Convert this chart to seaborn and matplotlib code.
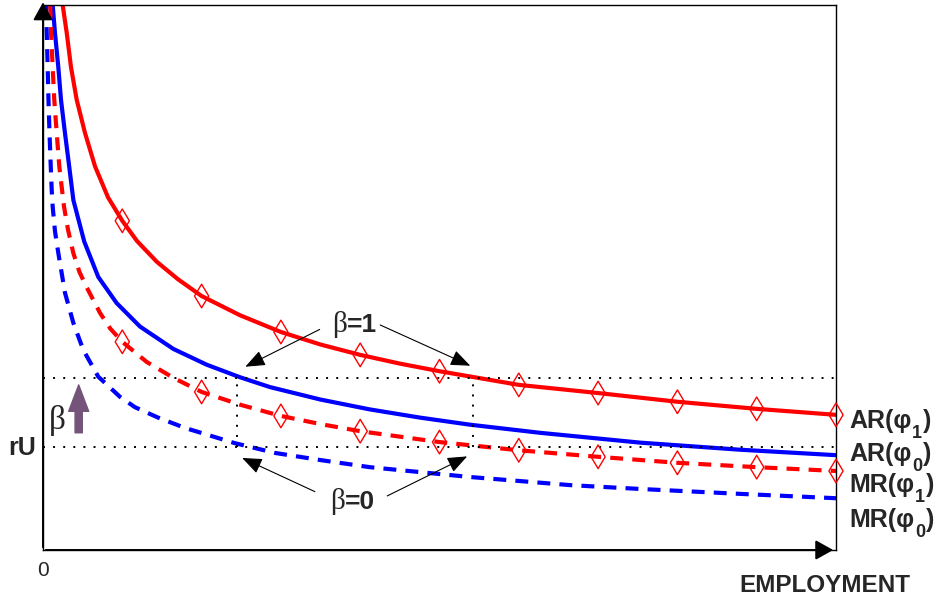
import matplotlib
matplotlib.use('Agg')
import matplotlib.pyplot as plt
import seaborn as sns

sns.set_theme(style='white')
plt.rcParams['font.family'] = ['Liberation Sans', 'DejaVu Sans']

# curves (x = employment, y = value)
ar1_x = [0.248, 0.299, 0.353, 0.425, 0.53, 0.656, 0.82, 1.0, 1.185, 1.434, 1.7, 2, 2.48, 3, 3.5, 4, 4.5, 5, 6, 7, 8, 9, 10]
ar1_y = [10.0, 9.49, 8.86, 8.26, 7.65, 7.04, 6.47, 6.04, 5.67, 5.29, 4.97, 4.66, 4.31, 4.00, 3.77, 3.58, 3.42, 3.28, 3.03, 2.88, 2.72, 2.59, 2.48]

ar0_x = [0.122, 0.151, 0.193, 0.227, 0.277, 0.331, 0.383, 0.52, 0.697, 0.929, 1.223, 1.643, 2.064, 2.484, 2.86, 3.5, 4.12, 4.75, 5.38, 6.27, 7.53, 8.79, 10]
ar0_y = [10.0, 9.49, 8.86, 8.26, 7.65, 7.03, 6.42, 5.66, 5.01, 4.53, 4.10, 3.69, 3.40, 3.17, 2.99, 2.76, 2.58, 2.43, 2.30, 2.15, 1.97, 1.84, 1.74]

mr1_x = [0.09, 0.101, 0.122, 0.142, 0.173, 0.206, 0.265, 0.315, 0.382, 0.46, 0.551, 0.719, 0.85, 1.0, 1.308, 1.643, 2, 2.5, 3, 3.5, 4, 5, 6, 7, 8, 9, 10]
mr1_y = [10.0, 9.49, 8.86, 8.26, 7.65, 7.03, 6.30, 5.88, 5.45, 5.10, 4.82, 4.35, 4.06, 3.82, 3.45, 3.16, 2.90, 2.66, 2.46, 2.31, 2.18, 1.98, 1.83, 1.71, 1.60, 1.52, 1.45]

mr0_x = [0.038, 0.047, 0.059, 0.069, 0.082, 0.098, 0.11, 0.122, 0.151, 0.193, 0.277, 0.382, 0.508, 0.697, 0.971, 1.16, 1.45, 1.79, 2.42, 2.93, 3.5, 4.12, 5.38, 6.65, 7.53, 8.79, 10]
mr0_y = [10.0, 9.49, 8.86, 8.26, 7.65, 7.03, 6.60, 6.30, 5.85, 5.45, 4.72, 4.17, 3.67, 3.18, 2.81, 2.62, 2.43, 2.24, 1.96, 1.78, 1.65, 1.52, 1.34, 1.19, 1.12, 1.03, 0.95]

# diamond markers on the red curves
mark_x = [1, 2, 3, 4, 5, 6, 7, 8, 9, 10]
ar1_mark = [6.04, 4.66, 4.00, 3.58, 3.28, 3.03, 2.88, 2.72, 2.59, 2.48]
mr1_mark = [3.82, 2.90, 2.46, 2.18, 1.98, 1.83, 1.71, 1.60, 1.52, 1.45]

# reference levels
level_beta1 = 3.16
level_ru = 1.89
cut_x = [2.45, 5.42]

W, H = 937, 600
fig = plt.figure(figsize=(W / 100, H / 100), dpi=100)
ax = fig.add_axes([43 / W, 50 / H, 793 / W, 545 / H])


def px(x, y):
    return x / W, 1 - y / H


dash = (0, (3.1, 2.2))
kw = dict(ax=ax, linewidth=3.0, sort=False, estimator=None)
sns.lineplot(x=ar1_x, y=ar1_y, color='#ff0000', **kw)
sns.lineplot(x=ar0_x, y=ar0_y, color='#0000ff', **kw)
sns.lineplot(x=mr1_x, y=mr1_y, color='#ff0000', linestyle=dash, **kw)
sns.lineplot(x=mr0_x, y=mr0_y, color='#0000ff', linestyle=dash, **kw)

for my in (ar1_mark, mr1_mark):
    sns.scatterplot(x=mark_x, y=my, ax=ax, marker='d', s=145, facecolor='none',
                    edgecolor='#ff0000', linewidth=1.0, clip_on=False, zorder=5)

# dotted guide lines
dot = (0, (1, 4.2))
for lv in (level_beta1, level_ru):
    ax.plot([0, 10], [lv, lv], color='black', lw=1.4, linestyle=dot)
for cx in cut_x:
    ax.plot([cx, cx], [level_ru, level_beta1], color='black', lw=1.4, linestyle=dot)

ax.set_xlim(0, 10)
ax.set_ylim(0, 10)
ax.set_xticks([])
ax.set_yticks([])
for s in ax.spines.values():
    s.set_color('black')
    s.set_linewidth(1.0)

# axis arrows
axis_arr = dict(arrowstyle='-|>,head_length=0.45,head_width=0.25', color='black', lw=1.4, mutation_scale=24)
ax.annotate('', xy=(0, 10.1), xytext=(0, 0), annotation_clip=False, arrowprops=axis_arr)
ax.annotate('', xy=(10, 0), xytext=(0, 0), annotation_clip=False, arrowprops=axis_arr)

# beta arrows
arr = dict(arrowstyle='-|>,head_length=0.45,head_width=0.18', color='black', lw=0.8, mutation_scale=27)
ax.annotate('', xy=(2.52, 3.34), xytext=(3.52, 4.07), arrowprops=arr)
ax.annotate('', xy=(5.42, 3.36), xytext=(4.22, 4.15), arrowprops=arr)
ax.annotate('', xy=(2.48, 1.71), xytext=(3.46, 1.05), arrowprops=arr)
ax.annotate('', xy=(5.38, 1.74), xytext=(4.31, 0.97), arrowprops=arr)

# purple shift arrow
ax.annotate('', xy=(0.45, 3.08), xytext=(0.45, 2.1), annotation_clip=False,
            arrowprops=dict(arrowstyle='simple,head_width=0.72,head_length=0.95,tail_width=0.26',
                            color='#745478', mutation_scale=20))

fig.text(*px(347, 332), 'β', family='Liberation Serif', fontsize=21, ha='right', va='baseline')
fig.text(*px(347, 332), '=1', fontsize=19, fontweight='bold', ha='left', va='baseline')
fig.text(*px(345, 509), 'β', family='Liberation Serif', fontsize=21, ha='right', va='baseline')
fig.text(*px(345, 509), '=0', fontsize=19, fontweight='bold', ha='left', va='baseline')

fig.text(*px(57, 421), 'β', family='Liberation Serif', fontsize=24, ha='center', va='center')
fig.text(*px(8, 455), 'rU', fontsize=18, fontweight='bold', ha='left', va='baseline')
fig.text(*px(43, 571), '0', fontsize=15, ha='center', va='center')
fig.text(*px(825, 592), 'EMPLOYMENT', fontsize=17.5, fontweight='bold', ha='center', va='baseline')

# curve labels: name, subscript, closing bracket
label_main = ['AR(φ', 'AR(φ', 'MR(φ', 'MR(φ']
label_sub = ['1', '0', '1', '0']
label_base = [428, 461, 492, 527]
for main, sub, b in zip(label_main, label_sub, label_base):
    bx, by = px(849, b)
    t1 = fig.text(bx, by, main, fontsize=18, fontweight='bold', ha='left', va='baseline')
    t2 = ax.annotate(sub, xy=(1, by), xycoords=(t1, 'figure fraction'), xytext=(0.5, -7),
                     textcoords='offset points', fontsize=13, fontweight='bold',
                     ha='left', va='baseline', annotation_clip=False)
    ax.annotate(')', xy=(1, by), xycoords=(t2, 'figure fraction'), xytext=(0.5, 0),
                textcoords='offset points', fontsize=18, fontweight='bold',
                ha='left', va='baseline', annotation_clip=False)

fig.savefig('out.png', dpi=100)
